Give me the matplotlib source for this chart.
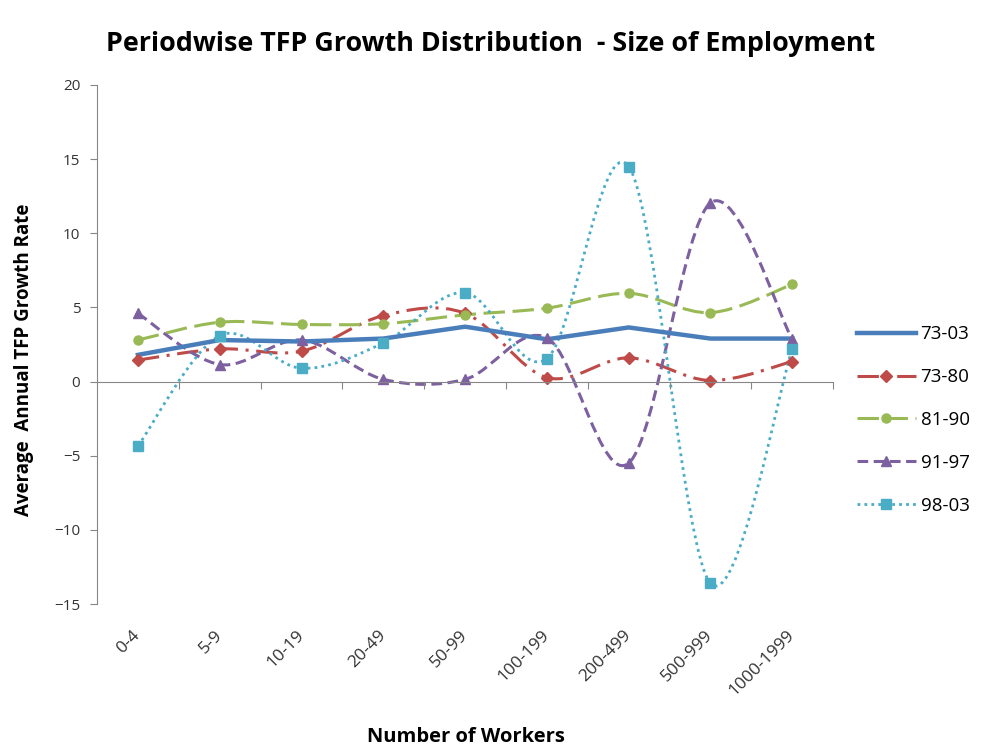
import matplotlib
matplotlib.use("Agg")
from matplotlib import pyplot as plt
from matplotlib.path import Path
from matplotlib.patches import PathPatch
from matplotlib.lines import Line2D
import numpy as np

plt.rcParams['font.family'] = ['Open Sans', 'DejaVu Sans']

categories = ["0-4", "5-9", "10-19", "20-49", "50-99", "100-199", "200-499", "500-999", "1000-1999"]
series_names = ["73-03", "73-80", "81-90", "91-97", "98-03"]
s_73_03 = [1.8, 2.8, 2.7, 2.9, 3.7, 2.85, 3.65, 2.9, 2.9]
s_73_80 = [1.45, 2.2, 2.05, 4.45, 4.6, 0.27, 1.6, 0.07, 1.35]
s_81_90 = [2.8, 4.0, 3.85, 3.9, 4.5, 4.95, 5.95, 4.65, 6.55]
s_91_97 = [4.6, 1.15, 2.8, 0.15, 0.15, 2.95, -5.5, 12.05, 2.85]
s_98_03 = [-4.35, 3.1, 0.9, 2.6, 6.0, 1.55, 14.5, -13.6, 2.2]

colors = ["#4A7EBB", "#BE4B48", "#98B954", "#7D60A0", "#4BACC6"]
markers = [None, "D", "o", "^", "s"]
styles = ["-", (0, (7, 2.5, 1, 2.5)), (0, (7, 2.5)), (0, (3.5, 1.8)), (0, (1, 1.5))]
smooth = [False, True, True, True, True]
widths = [3.2, 2.2, 2.2, 2.2, 2.0]


def smooth_path(xs, ys):
    # Excel-style smoothed line: cubic Bezier segments through the points
    pts = np.column_stack([xs, ys]).astype(float)
    n = len(pts)
    verts = [pts[0]]
    codes = [Path.MOVETO]
    for i in range(n - 1):
        p0 = pts[i - 1] if i > 0 else pts[i]
        p1 = pts[i]
        p2 = pts[i + 1]
        p3 = pts[i + 2] if i + 2 < n else pts[i + 1]
        verts += [p1 + (p2 - p0) / 6, p2 - (p3 - p1) / 6, p2]
        codes += [Path.CURVE4] * 3
    return Path(verts, codes)


fig = plt.figure(figsize=(9.86, 7.48), dpi=100)
ax = fig.add_axes([0.0984, 0.1925, 0.7466, 0.6939])

x = np.arange(len(categories))
all_series = [s_73_03, s_73_80, s_81_90, s_91_97, s_98_03]
handles = []
for vals, name, c, m, ls, sm, lw in zip(all_series, series_names, colors, markers, styles, smooth, widths):
    if sm:
        patch = PathPatch(smooth_path(x, vals), facecolor="none", edgecolor=c,
                          linewidth=lw, linestyle=ls, capstyle="butt")
        ax.add_patch(patch)
        ax.plot(x, vals, linestyle="none", marker=m, color=c, markersize=6.5)
    else:
        ax.plot(x, vals, linestyle=ls, color=c, linewidth=lw)
    handles.append(Line2D([], [], color=c, linestyle=ls, linewidth=lw, marker=m, markersize=6.5))

ax.set_xlim(-0.5, len(categories) - 0.5)
ax.set_ylim(-15, 20)
ax.set_yticks(np.arange(-15, 21, 5))
ax.tick_params(axis="y", direction="out", length=5, color="#868686", labelsize=11,
               labelcolor="#333333", pad=7)

ax.spines["top"].set_visible(False)
ax.spines["right"].set_visible(False)
ax.spines["left"].set_color("#868686")
ax.spines["bottom"].set_color("#868686")
ax.spines["bottom"].set_position(("data", 0))
ax.set_xticks(np.arange(0.5, len(categories), 1.0))
ax.set_xticklabels([])
ax.tick_params(axis="x", direction="out", length=5, color="#868686")

sec = ax.secondary_xaxis("bottom")
sec.spines["bottom"].set_visible(False)
sec.set_xticks(x)
sec.set_xticklabels(categories, rotation=45, ha="right", va="center", rotation_mode="anchor",
                    fontsize=12.5, color="#333333")
sec.tick_params(axis="x", length=0, pad=21)

fig.text(0.473, 1 - 737 / 748, "Number of Workers", ha="center", va="center",
         fontsize=14.5, fontweight="bold")

ax.set_ylabel("Average  Annual TFP Growth Rate", fontsize=13.5, fontweight="bold")
ax.yaxis.set_label_coords(-0.086, 0.47)
fig.suptitle("Periodwise TFP Growth Distribution  - Size of Employment",
             x=0.498, y=0.958, fontsize=19.4, fontweight="bold")

fig.legend(handles, series_names, loc="center left", bbox_to_anchor=(0.862, 0.4385),
           frameon=False, fontsize=13.5, handlelength=3.1, labelspacing=1.33, handletextpad=0.27,
           borderaxespad=0)

fig.savefig("out.png", dpi=100)
